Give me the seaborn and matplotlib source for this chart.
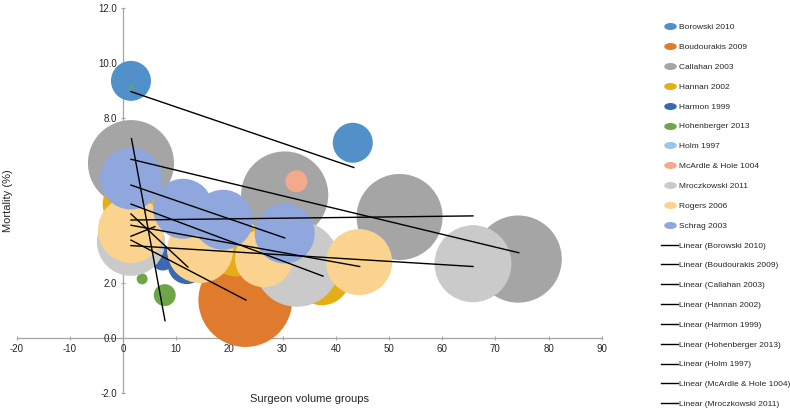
import numpy as np
import matplotlib
matplotlib.use("Agg")
import matplotlib.pyplot as plt
from matplotlib.lines import Line2D
from matplotlib.path import Path
import pandas as pd
import seaborn as sns

# series (studies) and their colours
studies = ['Borowski 2010', 'Boudourakis 2009', 'Callahan 2003', 'Hannan 2002',
           'Harmon 1999', 'Hohenberger 2013', 'Holm 1997', 'McArdle & Hole 1004',
           'Mroczkowski 2011', 'Rogers 2006', 'Schrag 2003']
colors = ['#5190c9', '#e07a2d', '#a5a5a5', '#e5ae14', '#3b68b3', '#6ca646',
          '#9dc3e6', '#f2aa8c', '#cacaca', '#fad48e', '#8fa7dc']

# bubbles: study, surgeon volume group, mortality, bubble size
bubble_study = ['Borowski 2010', 'Borowski 2010',
                'Boudourakis 2009',
                'Callahan 2003', 'Callahan 2003', 'Callahan 2003', 'Callahan 2003',
                'Hannan 2002', 'Hannan 2002', 'Hannan 2002',
                'Harmon 1999', 'Harmon 1999',
                'Hohenberger 2013', 'Hohenberger 2013', 'Hohenberger 2013',
                'McArdle & Hole 1004', 'McArdle & Hole 1004',
                'Mroczkowski 2011', 'Mroczkowski 2011', 'Mroczkowski 2011',
                'Rogers 2006', 'Rogers 2006', 'Rogers 2006', 'Rogers 2006',
                'Schrag 2003', 'Schrag 2003', 'Schrag 2003', 'Schrag 2003']
bubble_x = [1.5, 43.2,
            23.0,
            1.5, 30.4, 52.0, 74.3,
            1.5, 21.2, 37.4,
            7.5, 12.0,
            1.5, 3.6, 7.85,
            32.6, 65.8,
            1.5, 32.7, 65.8,
            1.5, 14.5, 26.5, 44.4,
            1.5, 11.3, 18.8, 30.4]
bubble_y = [9.35, 7.1,
            1.38,
            6.36, 5.2, 4.4, 2.87,
            4.87, 3.24, 2.22,
            2.9, 2.65,
            9.13, 2.15, 1.56,
            5.7, 3.7,
            3.5, 2.7, 2.7,
            3.93, 3.2, 2.9, 2.76,
            5.8, 4.7, 4.3, 3.8]
bubble_n = [400, 400,
            2200,
            1850, 1900, 1850, 1900,
            800, 760, 800,
            150, 360,
            4, 30, 120,
            121, 121,
            1160, 1850, 1480,
            1090, 1090, 840, 1090,
            960, 900, 900, 900]

# linear trendlines (start / end) per study, same order as studies
trend_x0 = [1.5, 1.5, 1.5, 1.5, 1.5, 1.6, 1.5, 1.5, 1.5, 1.5, 1.5]
trend_y0 = [8.96, 3.56, 6.5, 4.87, 4.51, 7.25, 3.7, 4.29, 3.36, 4.1, 5.56]
trend_x1 = [43.4, 23.1, 74.4, 37.6, 12.2, 7.9, 6.0, 65.8, 65.8, 44.5, 30.4]
trend_y1 = [6.2, 1.38, 3.1, 2.25, 2.58, 0.63, 4.05, 4.44, 2.6, 2.6, 3.64]

df = pd.DataFrame({'study': bubble_study, 'x': bubble_x, 'y': bubble_y, 'n': bubble_n})

plt.rcParams['font.family'] = ['Liberation Sans', 'DejaVu Sans']
plt.rcParams['axes.unicode_minus'] = False
fig = plt.figure(figsize=(7.9, 4.09), dpi=100)
ax = fig.add_axes([16.6 / 790, 1 - 393 / 409, 585.1 / 790, 385 / 409])

# pixel radius -> points^2 at dpi 100
size_scale = (2 * 0.72) ** 2
nmax = max(bubble_n)
sns.scatterplot(data=df, x='x', y='y', hue='study', palette=dict(zip(studies, colors)),
                size='n', sizes=(0, nmax * size_scale), size_norm=(0, nmax),
                linewidth=0, alpha=1, legend=False, ax=ax, zorder=2)

for i in range(len(studies)):
    ax.plot([trend_x0[i], trend_x1[i]], [trend_y0[i], trend_y1[i]],
            color='black', lw=1.0, zorder=3)

ax.set_xlim(-20, 90)
ax.set_ylim(-2, 12)
ax.set_xticks(range(-20, 91, 10))
ax.set_yticks(np.arange(-2, 12.1, 2))
ax.set_yticklabels(['%.1f' % v for v in np.arange(-2, 12.1, 2)])

for s in ['top', 'right']:
    ax.spines[s].set_visible(False)
ax.spines['left'].set_position(('data', 0))
ax.spines['bottom'].set_position(('data', 0))
for s in ['left', 'bottom']:
    ax.spines[s].set_color('#a6a6a6')
    ax.spines[s].set_linewidth(0.9)
    ax.spines[s].set_zorder(1)
ax.tick_params(axis='both', colors='#a6a6a6', labelcolor='#262626', labelsize=7,
               length=3, width=0.8, direction='inout', pad=3)
ax.set_facecolor('none')

ax.set_xlabel('Surgeon volume groups', fontsize=8, color='#262626')
ax.xaxis.set_label_coords(0.5, -0.003)
ax.set_ylabel('Mortality (%)', fontsize=8, color='#262626')
ax.yaxis.set_label_coords(-0.006, 0.5)

# legend: bubble entries then the (truncated) trendline entries
ell = Path(Path.unit_circle().vertices * [2.0, 1.0], Path.unit_circle().codes)
handles = [Line2D([], [], ls='', marker=ell, markersize=8, color=c) for c in colors]
labels = list(studies)
for name in studies[:9]:
    handles.append(Line2D([], [], color='black', lw=1.0))
    labels.append('Linear (%s)' % name)
fig.legend(handles, labels, loc='upper left', bbox_to_anchor=(661 / 790, 1 - 23.5 / 409),
           frameon=False, fontsize=6.0, labelspacing=1.44, handlelength=2.05,
           handletextpad=0.12, borderaxespad=0, borderpad=0, labelcolor='#262626')

fig.savefig('out.png', dpi=100)
